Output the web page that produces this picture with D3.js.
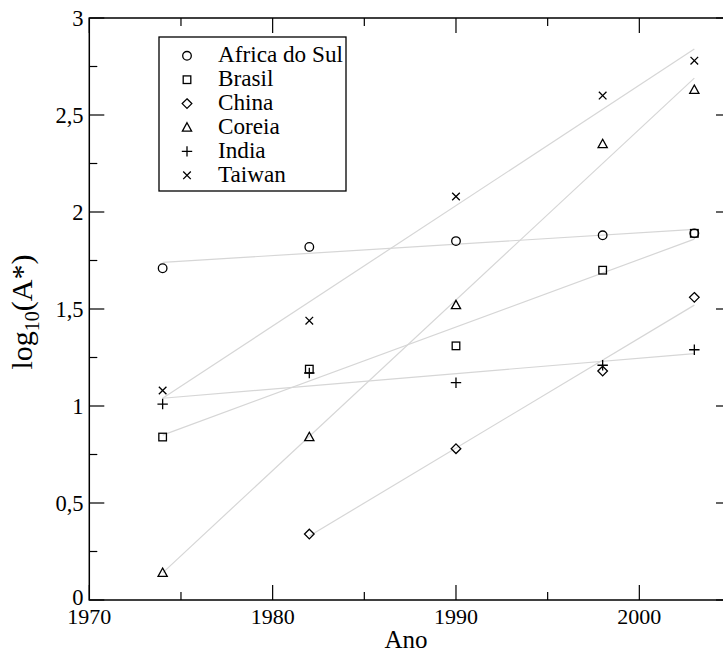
<!DOCTYPE html>
<html>
<head>
<meta charset="utf-8">
<script src="https://cdn.jsdelivr.net/npm/d3@7"></script>
</head>
<body style="margin:0;padding:0;background:#fff;font-family:'Liberation Serif',serif;">
<svg id="chart" width="723" height="657" font-family="Liberation Serif" style="display:block;font-family:'Liberation Serif',serif;"></svg>
<script>
// ---- data ----
const years = [1974, 1982, 1990, 1998, 2003];
const seriesNames = ["Africa do Sul", "Brasil", "China", "Coreia", "India", "Taiwan"];
const africaDoSul = [1.71, 1.82, 1.85, 1.88, 1.89];
const brasil      = [0.84, 1.19, 1.31, 1.70, 1.89];
const china       = [null, 0.34, 0.78, 1.18, 1.56];
const coreia      = [0.14, 0.84, 1.52, 2.35, 2.63];
const india       = [1.01, 1.17, 1.12, 1.21, 1.29];
const taiwan      = [1.08, 1.44, 2.08, 2.60, 2.78];
// fitted trend lines (endpoints)
const fitStartYear = [1974, 1974, 1982, 1974, 1974, 1974];
const fitEndYear   = [2003, 2003, 2003, 2003, 2003, 2003];
const fitStartVal  = [1.74, 0.85, 0.33, 0.14, 1.04, 1.04];
const fitEndVal    = [1.91, 1.86, 1.52, 2.69, 1.27, 2.84];
const xTicks = [1970, 1980, 1990, 2000];
const xMinorTicks = [1975, 1985, 1995, 2005];
const yTicks = [0, 0.5, 1, 1.5, 2, 2.5, 3];
const yMinorTicks = [0.25, 0.75, 1.25, 1.75, 2.25, 2.75];
const xTitle = "Ano";

const seriesValues = [africaDoSul, brasil, china, coreia, india, taiwan];
const symbolKinds = ["circle", "square", "diamond", "triangle", "plus", "cross"];

// ---- layout ----
const FONT = "Liberation Serif";
const x0 = 89.3, x1 = 731, y0 = 600, y1 = 18;
const x = d3.scaleLinear().domain([1970, 2005]).range([x0, x1]);
const y = d3.scaleLinear().domain([0, 3]).range([y0, y1]);

const svg = d3.select("#chart");

function txt(sel) {
  return sel.append("text").attr("font-family", FONT).style("font-family", FONT).attr("fill", "#000");
}

// trend lines
const g = svg.append("g");
seriesNames.forEach((n, i) => {
  g.append("line")
    .attr("x1", x(fitStartYear[i])).attr("y1", y(fitStartVal[i]))
    .attr("x2", x(fitEndYear[i])).attr("y2", y(fitEndVal[i]))
    .attr("stroke", "#d6d6d6").attr("stroke-width", 1.2);
});

function drawSymbol(sel, kind, cx, cy) {
  const s = sel.append("g").attr("transform", `translate(${cx},${cy})`)
    .attr("fill", "none").attr("stroke", "#000").attr("stroke-width", 1.3);
  if (kind === "circle") s.append("circle").attr("r", 4.3);
  else if (kind === "square") s.append("rect").attr("x", -3.8).attr("y", -3.8).attr("width", 7.6).attr("height", 7.6);
  else if (kind === "diamond") s.append("path").attr("d", "M0,-4.8L4.8,0L0,4.8L-4.8,0Z");
  else if (kind === "triangle") s.append("path").attr("d", "M0,-4.8L4.6,3.6L-4.6,3.6Z");
  else if (kind === "plus") s.append("path").attr("d", "M-5.2,0H5.2M0,-5.2V5.2");
  else if (kind === "cross") s.append("path").attr("d", "M-3.8,-3.8L3.8,3.8M-3.8,3.8L3.8,-3.8");
}

// markers
seriesNames.forEach((n, i) => {
  seriesValues[i].forEach((v, j) => {
    if (v === null) return;
    drawSymbol(svg, symbolKinds[i], x(years[j]), y(v));
  });
});

// frame
svg.append("rect").attr("x", x0).attr("y", y1).attr("width", x1 - x0).attr("height", y0 - y1)
  .attr("fill", "none").attr("stroke", "#000").attr("stroke-width", 1.5);

// axes (ticks inside)
const major = 15, minor = 8;
const axG = svg.append("g").attr("stroke", "#000").attr("stroke-width", 1.2);
xTicks.forEach(t => {
  axG.append("line").attr("x1", x(t)).attr("x2", x(t)).attr("y1", y0).attr("y2", y0 - major);
  axG.append("line").attr("x1", x(t)).attr("x2", x(t)).attr("y1", y1).attr("y2", y1 + major);
});
xMinorTicks.forEach(t => {
  axG.append("line").attr("x1", x(t)).attr("x2", x(t)).attr("y1", y0).attr("y2", y0 - minor);
  axG.append("line").attr("x1", x(t)).attr("x2", x(t)).attr("y1", y1).attr("y2", y1 + minor);
});
yTicks.forEach(t => {
  axG.append("line").attr("x1", x0).attr("x2", x0 + major).attr("y1", y(t)).attr("y2", y(t));
  axG.append("line").attr("x1", x1).attr("x2", x1 - major).attr("y1", y(t)).attr("y2", y(t));
});
yMinorTicks.forEach(t => {
  axG.append("line").attr("x1", x0).attr("x2", x0 + minor).attr("y1", y(t)).attr("y2", y(t));
  axG.append("line").attr("x1", x1).attr("x2", x1 - minor).attr("y1", y(t)).attr("y2", y(t));
});

// tick labels
const fmt = v => String(v).replace(".", ",");
xTicks.forEach(t => {
  txt(svg).attr("x", x(t)).attr("y", 624).attr("text-anchor", "middle")
    .attr("font-size", 22).text(t);
});
yTicks.forEach(t => {
  txt(svg).attr("x", 83.5).attr("y", t === 0 ? 605 : y(t) + 7.5).attr("text-anchor", "end")
    .attr("font-size", 22.5).text(fmt(t));
});

// axis titles
txt(svg).attr("x", 406).attr("y", 648).attr("text-anchor", "middle")
  .attr("font-size", 25).text(xTitle);
const yl = txt(svg).attr("transform", "translate(32,312) rotate(-90)")
  .attr("text-anchor", "middle").attr("font-size", 30);
yl.append("tspan").text("log");
yl.append("tspan").attr("font-size", 20).attr("dy", 7).text("10");
yl.append("tspan").attr("dy", -7).text("(A*)");

// legend
const lg = svg.append("g");
lg.append("rect").attr("x", 159).attr("y", 37).attr("width", 187).attr("height", 154)
  .attr("fill", "#fff").attr("stroke", "#000").attr("stroke-width", 1.3);
seriesNames.forEach((n, i) => {
  const base = 62.3 + i * 23.9;
  drawSymbol(lg, symbolKinds[i], 187, base - 6.5);
  txt(lg).attr("x", 218).attr("y", base).attr("font-size", 23.2).text(n);
});
</script>
</body>
</html>
